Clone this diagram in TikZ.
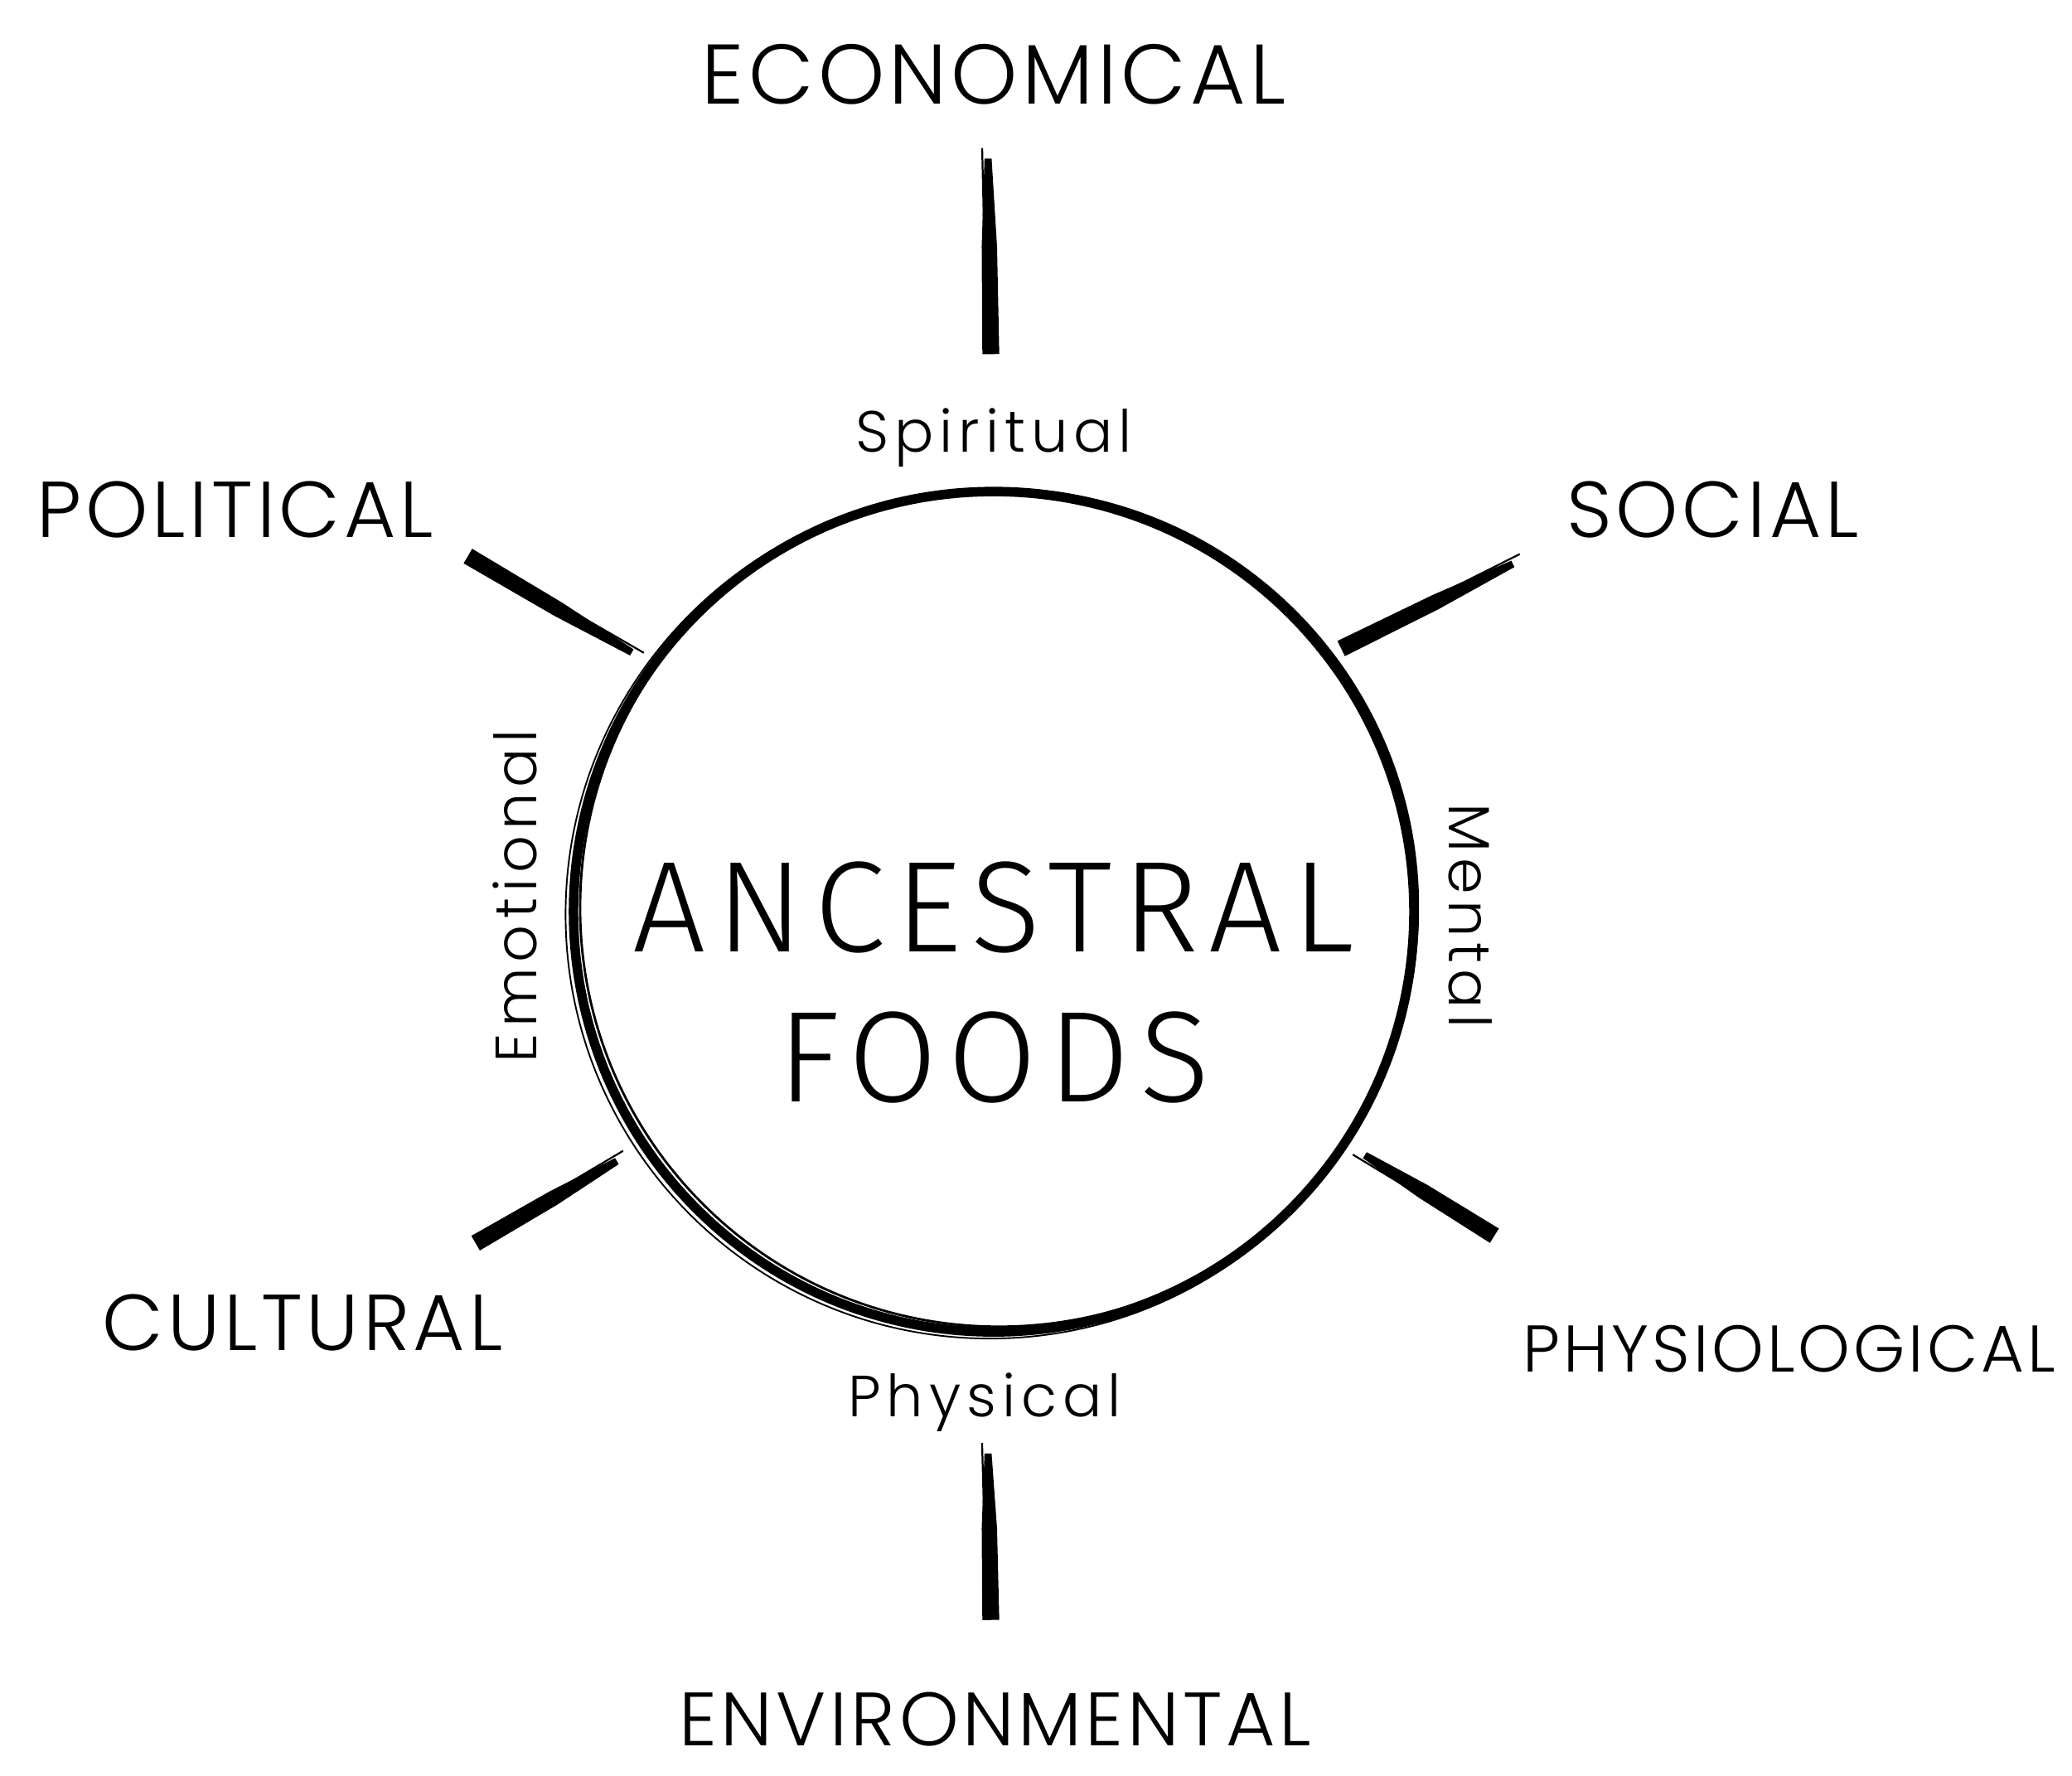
\documentclass[tikz,border=0pt]{standalone}
\usepackage{fontspec}
\setmainfont{Poppins}[UprightFont=* Light]
\newfontfamily\titlefont{Fira Sans Light}
\usetikzlibrary{positioning,calc}
\tikzset{
  factor/.style={font=\fontsize{#1}{36}\selectfont\addfontfeatures{LetterSpace=5}, inner sep=0pt},
  factor/.default=30,
  facet/.style={font=\fontsize{22}{26}\selectfont\addfontfeatures{LetterSpace=10}, inner sep=0pt},
  title/.style={font=\titlefont\fontsize{49}{56}\selectfont\addfontfeatures{LetterSpace=8}, inner sep=0pt},
  ring/.style={circle,draw,line width=3.6pt,minimum size=318pt,inner sep=0pt},
  brush/.style={fill=black},
  bristle/.style={line width=0.7pt}
}

\begin{document}
\begin{tikzpicture}[x=0.5pt,y=-0.5pt]
\useasboundingbox (0,0) rectangle (1568,1344);
\node[ring] (core) at (752,690) {};
\draw[line width=0.9pt] ([xshift=2pt,yshift=1.5pt]core.center) circle[radius=317];
\draw[line width=0.6pt] ([xshift=-1.5pt,yshift=-1pt]core.center) circle[radius=321];
\node[title] (anc) at (752,687) {ANCESTRAL};
\node[title] (foods) at (752,800) {FOODS};
\node[facet, anchor=base] (spirit) at (752,342) {Spiritual};
\node[facet, anchor=base] (phys) at (745,1072) {Physical};
\node[facet, rotate=90] (emo) at (390,678) {Emotional};
\node[facet, rotate=-90] (ment) at (1113,693) {Mental};
\node[factor=32] (econ) at (752,56) {ECONOMICAL};
\node[factor] (pol) at (178,386) {POLITICAL};
\node[factor] (soc) at (1296,386) {SOCIAL};
\node[factor] (cult) at (229,1001) {CULTURAL};
\node[factor=25] (physio) at (1354,1021) {PHYSIOLOGICAL};
\node[factor=28.6] (env) at (753,1301) {ENVIRONMENTAL};
% brush strokes, from the broad end (a) to the fine end (b)
\coordinate (econ-a) at (750,268);    \coordinate (econ-b) at (748,120);
\coordinate (pol-a) at (354,421);     \coordinate (pol-b) at (478,494);
\coordinate (soc-a) at (1015,491);    \coordinate (soc-b) at (1145,427);
\coordinate (cult-a) at (360,941);    \coordinate (cult-b) at (467,879);
\coordinate (physio-a) at (1131,935); \coordinate (physio-b) at (1033,874);
\coordinate (env-a) at (750,1226);    \coordinate (env-b) at (748,1100);
\foreach \s in {econ,pol,soc,cult,physio,env}{
  \coordinate (\s-m) at ($(\s-a)!0.55!(\s-b)$);
  \fill[brush] ($(\s-a)!3.3pt!90:(\s-b)$) -- ($(\s-m)!3pt!90:(\s-b)$)
    -- ($(\s-b)!1.5pt!-90:(\s-a)$) -- ($(\s-b)!1.2pt!90:(\s-a)$)
    -- ($(\s-m)!2.8pt!-90:(\s-b)$) -- ($(\s-a)!3.1pt!-90:(\s-b)$) -- cycle;
  \draw[bristle] ($(\s-m)!2pt!90:(\s-b)$) -- ($($(\s-b)!2.2pt!-90:(\s-a)$)!-4pt!(\s-a)$);
}
\end{tikzpicture}
\end{document}
